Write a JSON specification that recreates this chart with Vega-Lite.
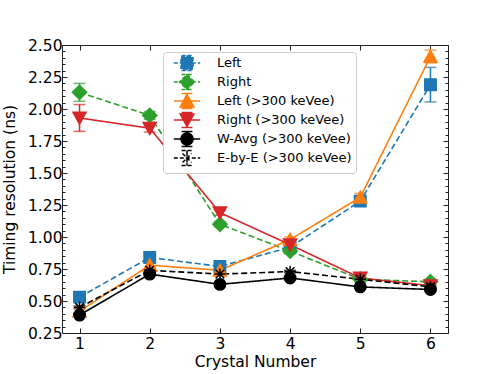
{
  "$schema": "https://vega.github.io/schema/vega-lite/v6.json",
  "width": 386,
  "height": 288,
  "autosize": "none",
  "padding": {"left": 62, "top": 45, "right": 50, "bottom": 41},
  "background": "white",
  "config": {
    "view": {"stroke": "#222", "strokeWidth": 1},
    "font": "DejaVu Sans",
    "axis": {"domain": false, "grid": false, "labelFont": "DejaVu Sans", "labelFontSize": 15.5, "labelColor": "black", "titleFont": "DejaVu Sans", "titleFontSize": 15.5, "titleFontWeight": "normal", "titleColor": "black", "tickColor": "#222", "tickWidth": 1}
  },
  "data": {
    "values": [
      {"series": "Left", "crystal": 1, "value": 0.53, "err": 0.02},
      {"series": "Left", "crystal": 2, "value": 0.84, "err": 0.02},
      {"series": "Left", "crystal": 3, "value": 0.77, "err": 0.02},
      {"series": "Left", "crystal": 4, "value": 0.92, "err": 0.02},
      {"series": "Left", "crystal": 5, "value": 1.28, "err": 0.03},
      {"series": "Left", "crystal": 6, "value": 2.19, "err": 0.135},
      {"series": "Right", "crystal": 1, "value": 2.13, "err": 0.07},
      {"series": "Right", "crystal": 2, "value": 1.95, "err": 0.03},
      {"series": "Right", "crystal": 3, "value": 1.10, "err": 0.02},
      {"series": "Right", "crystal": 4, "value": 0.89, "err": 0.02},
      {"series": "Right", "crystal": 5, "value": 0.67, "err": 0.02},
      {"series": "Right", "crystal": 6, "value": 0.65, "err": 0.02},
      {"series": "Left (>300 keVee)", "crystal": 1, "value": 0.42, "err": 0.02},
      {"series": "Left (>300 keVee)", "crystal": 2, "value": 0.78, "err": 0.02},
      {"series": "Left (>300 keVee)", "crystal": 3, "value": 0.74, "err": 0.02},
      {"series": "Left (>300 keVee)", "crystal": 4, "value": 0.98, "err": 0.02},
      {"series": "Left (>300 keVee)", "crystal": 5, "value": 1.31, "err": 0.03},
      {"series": "Left (>300 keVee)", "crystal": 6, "value": 2.41, "err": 0.05},
      {"series": "Right (>300 keVee)", "crystal": 1, "value": 1.93, "err": 0.105},
      {"series": "Right (>300 keVee)", "crystal": 2, "value": 1.85, "err": 0.03},
      {"series": "Right (>300 keVee)", "crystal": 3, "value": 1.19, "err": 0.02},
      {"series": "Right (>300 keVee)", "crystal": 4, "value": 0.94, "err": 0.02},
      {"series": "Right (>300 keVee)", "crystal": 5, "value": 0.68, "err": 0.02},
      {"series": "Right (>300 keVee)", "crystal": 6, "value": 0.62, "err": 0.02},
      {"series": "W-Avg (>300 keVee)", "crystal": 1, "value": 0.39, "err": 0.01},
      {"series": "W-Avg (>300 keVee)", "crystal": 2, "value": 0.71, "err": 0.01},
      {"series": "W-Avg (>300 keVee)", "crystal": 3, "value": 0.63, "err": 0.01},
      {"series": "W-Avg (>300 keVee)", "crystal": 4, "value": 0.68, "err": 0.01},
      {"series": "W-Avg (>300 keVee)", "crystal": 5, "value": 0.61, "err": 0.01},
      {"series": "W-Avg (>300 keVee)", "crystal": 6, "value": 0.59, "err": 0.01},
      {"series": "E-by-E (>300 keVee)", "crystal": 1, "value": 0.45, "err": 0.01},
      {"series": "E-by-E (>300 keVee)", "crystal": 2, "value": 0.74, "err": 0.01},
      {"series": "E-by-E (>300 keVee)", "crystal": 3, "value": 0.71, "err": 0.01},
      {"series": "E-by-E (>300 keVee)", "crystal": 4, "value": 0.73, "err": 0.01},
      {"series": "E-by-E (>300 keVee)", "crystal": 5, "value": 0.67, "err": 0.01},
      {"series": "E-by-E (>300 keVee)", "crystal": 6, "value": 0.61, "err": 0.01}
    ]
  },
  "resolve": {
    "scale": {"shape": "independent", "strokeDash": "independent", "stroke": "independent", "fill": "independent"},
    "axis": {"x": "independent", "y": "independent"},
    "legend": {"shape": "independent", "strokeDash": "independent", "stroke": "independent", "fill": "independent"}
  },
  "layer": [
    {
      "mark": {"type": "errorbar", "ticks": {"size": 12}, "thickness": 1.5},
      "encoding": {
        "x": {"field": "crystal", "type": "quantitative", "scale": {"domain": [0.75, 6.25], "nice": false, "zero": false},
          "axis": {"orient": "bottom", "title": "Crystal Number", "values": [1, 2, 3, 4, 5, 6], "format": "d", "tickSize": -5, "labelPadding": 8, "titlePadding": 3}},
        "y": {"field": "value", "type": "quantitative", "scale": {"domain": [0.25, 2.5], "nice": false, "zero": false},
          "axis": {"orient": "left", "title": "Timing resolution (ns)",
            "values": [0.25,0.3,0.35,0.4,0.45,0.5,0.55,0.6,0.65,0.7,0.75,0.8,0.85,0.9,0.95,1,1.05,1.1,1.15,1.2,1.25,1.3,1.35,1.4,1.45,1.5,1.55,1.6,1.65,1.7,1.75,1.8,1.85,1.9,1.95,2,2.05,2.1,2.15,2.2,2.25,2.3,2.35,2.4,2.45,2.5],
            "labelExpr": "abs(datum.value*4 - round(datum.value*4)) < 0.001 ? format(datum.value, '.2f') : ''",
            "labelOverlap": false,
            "tickSize": {"condition": {"test": "abs(datum.value*4 - round(datum.value*4)) < 0.001", "value": -5}, "value": -3},
            "labelPadding": 5, "titlePadding": 10}},
        "yError": {"field": "err"},
        "color": {"field": "series", "type": "nominal",
          "scale": {"domain": ["Left", "Right", "Left (>300 keVee)", "Right (>300 keVee)", "W-Avg (>300 keVee)", "E-by-E (>300 keVee)"],
                    "range": ["#1f77b4", "#2ca02c", "#ff7f0e", "#d62728", "#000000", "#000000"]},
          "legend": null}
      }
    },
    {
      "mark": {"type": "line", "strokeWidth": 1.6},
      "encoding": {
        "x": {"field": "crystal", "type": "quantitative",
          "axis": {"orient": "top", "title": null, "values": [1, 2, 3, 4, 5, 6], "labels": false, "tickSize": -5}},
        "y": {"field": "value", "type": "quantitative",
          "axis": {"orient": "right", "title": null, "labels": false,
            "values": [0.25,0.3,0.35,0.4,0.45,0.5,0.55,0.6,0.65,0.7,0.75,0.8,0.85,0.9,0.95,1,1.05,1.1,1.15,1.2,1.25,1.3,1.35,1.4,1.45,1.5,1.55,1.6,1.65,1.7,1.75,1.8,1.85,1.9,1.95,2,2.05,2.1,2.15,2.2,2.25,2.3,2.35,2.4,2.45,2.5],
            "tickSize": {"condition": {"test": "abs(datum.value*4 - round(datum.value*4)) < 0.001", "value": -5}, "value": -3}}},
        "color": {"field": "series", "type": "nominal", "legend": null},
        "strokeDash": {"field": "series", "type": "nominal",
          "scale": {"domain": ["Left", "Right", "Left (>300 keVee)", "Right (>300 keVee)", "W-Avg (>300 keVee)", "E-by-E (>300 keVee)"],
                    "range": [[6, 3], [6, 3], [1, 0], [1, 0], [1, 0], [6, 3]]},
          "legend": null}
      }
    },
    {
      "mark": {"type": "point", "filled": true, "size": 130, "strokeWidth": 1.5, "opacity": 1},
      "encoding": {
        "x": {"field": "crystal", "type": "quantitative", "axis": null},
        "y": {"field": "value", "type": "quantitative", "axis": null},
        "color": {"field": "series", "type": "nominal", "legend": null},
        "stroke": {"field": "series", "type": "nominal",
          "scale": {"domain": ["Left", "Right", "Left (>300 keVee)", "Right (>300 keVee)", "W-Avg (>300 keVee)", "E-by-E (>300 keVee)"],
                    "range": ["#1f77b4", "#2ca02c", "#ff7f0e", "#d62728", "#000000", "#000000"]},
          "legend": null},
        "shape": {"field": "series", "type": "nominal",
          "scale": {"domain": ["Left", "Right", "Left (>300 keVee)", "Right (>300 keVee)", "W-Avg (>300 keVee)", "E-by-E (>300 keVee)"],
                    "range": ["M-1,-1L1,-1L1,1L-1,1Z", "M0,-1.25L1.25,0L0,1.25L-1.25,0Z", "M0,-1.1L1.15,1L-1.15,1Z", "M0,1.1L1.15,-1L-1.15,-1Z", "M1,0A1,1,0,1,1,-1,0A1,1,0,1,1,1,0Z", "M-1,0L1,0M0,-1L0,1M-0.75,-0.75L0.75,0.75M-0.75,0.75L0.75,-0.75"]},
          "legend": null}
      }
    },
    {
      "mark": {"type": "point", "filled": true, "size": 0, "opacity": 1},
      "encoding": {
        "x": {"field": "crystal", "type": "quantitative", "axis": null},
        "y": {"field": "value", "type": "quantitative", "axis": null},
        "fill": {"field": "series", "type": "nominal",
          "scale": {"domain": ["Left", "Right", "Left (>300 keVee)", "Right (>300 keVee)", "W-Avg (>300 keVee)", "E-by-E (>300 keVee)"],
                    "range": ["#1f77b4", "#2ca02c", "#ff7f0e", "#d62728", "#000000", "#000000"]},
          "legend": {"title": null, "orient": "none", "legendX": 101, "legendY": 7, "symbolSize": 144, "symbolStrokeWidth": 1.5, "labelFont": "DejaVu Sans", "labelFontSize": 13, "labelColor": "black", "rowPadding": -3, "padding": 4, "strokeColor": "#cccccc", "fillColor": "white", "cornerRadius": 3, "symbolOffset": 13, "labelOffset": 23}},
        "stroke": {"field": "series", "type": "nominal",
          "scale": {"domain": ["Left", "Right", "Left (>300 keVee)", "Right (>300 keVee)", "W-Avg (>300 keVee)", "E-by-E (>300 keVee)"],
                    "range": ["#1f77b4", "#2ca02c", "#ff7f0e", "#d62728", "#000000", "#000000"]},
          "legend": {"title": null, "orient": "none", "legendX": 101, "legendY": 7, "symbolSize": 144, "symbolStrokeWidth": 1.5, "labelFont": "DejaVu Sans", "labelFontSize": 13, "labelColor": "black", "rowPadding": -3, "padding": 4, "strokeColor": "#cccccc", "fillColor": "white", "cornerRadius": 3, "symbolOffset": 13, "labelOffset": 23}},
        "strokeDash": {"field": "series", "type": "nominal",
          "scale": {"domain": ["Left", "Right", "Left (>300 keVee)", "Right (>300 keVee)", "W-Avg (>300 keVee)", "E-by-E (>300 keVee)"],
                    "range": [[4, 2], [4, 2], [1, 0], [1, 0], [1, 0], [4, 2]]},
          "legend": {"title": null, "orient": "none", "legendX": 101, "legendY": 7, "symbolSize": 144, "symbolStrokeWidth": 1.5, "labelFont": "DejaVu Sans", "labelFontSize": 13, "labelColor": "black", "rowPadding": -3, "padding": 4, "strokeColor": "#cccccc", "fillColor": "white", "cornerRadius": 3, "symbolOffset": 13, "labelOffset": 23}},
        "shape": {"field": "series", "type": "nominal",
          "scale": {"domain": ["Left", "Right", "Left (>300 keVee)", "Right (>300 keVee)", "W-Avg (>300 keVee)", "E-by-E (>300 keVee)"],
                    "range": [
                      "M-2.2,0L2.2,0M-1,-1L1,-1L1,1L-1,1ZM0,-1.25L0,1.25M-0.9,-1.25L0.9,-1.25M-0.9,1.25L0.9,1.25",
                      "M-2.2,0L2.2,0M0,-1.25L1.25,0L0,1.25L-1.25,0ZM0,-1.25L0,1.25M-0.9,-1.25L0.9,-1.25M-0.9,1.25L0.9,1.25",
                      "M-2.2,0L2.2,0M0,-1.1L1.15,1L-1.15,1ZM0,-1.25L0,1.25M-0.9,-1.25L0.9,-1.25M-0.9,1.25L0.9,1.25",
                      "M-2.2,0L2.2,0M0,1.1L1.15,-1L-1.15,-1ZM0,-1.25L0,1.25M-0.9,-1.25L0.9,-1.25M-0.9,1.25L0.9,1.25",
                      "M-2.2,0L2.2,0M1,0A1,1,0,1,1,-1,0A1,1,0,1,1,1,0ZM0,-1.25L0,1.25M-0.9,-1.25L0.9,-1.25M-0.9,1.25L0.9,1.25",
                      "M-2.2,0L2.2,0M0,-1L0,1M-0.75,-0.75L0.75,0.75M-0.75,0.75L0.75,-0.75M0,-1.25L0,1.25M-0.9,-1.25L0.9,-1.25M-0.9,1.25L0.9,1.25"
                    ]},
          "legend": {"title": null, "orient": "none", "legendX": 101, "legendY": 7, "symbolSize": 144, "symbolStrokeWidth": 1.5, "labelFont": "DejaVu Sans", "labelFontSize": 13, "labelColor": "black", "rowPadding": -3, "padding": 4, "strokeColor": "#cccccc", "fillColor": "white", "cornerRadius": 3, "symbolOffset": 13, "labelOffset": 23}}
      }
    }
  ]
}
